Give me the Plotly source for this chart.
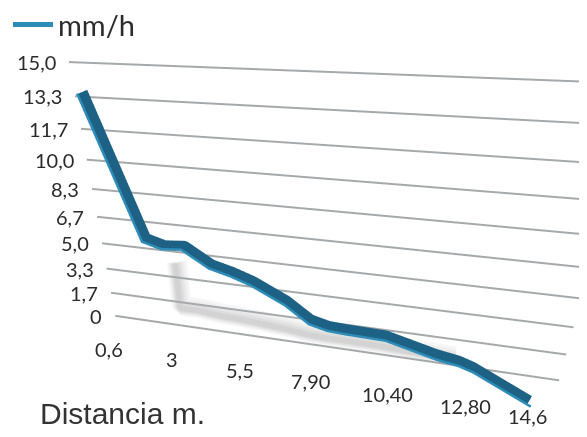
import math
import plotly.graph_objects as go

# ---- data ----
distance = [0.6, 2.0, 2.65, 3.35, 4.25, 4.95, 5.65, 6.75, 7.55, 8.15, 8.75, 10.0, 11.6, 12.3, 12.75, 14.6]
mm_h = [14.0, 6.7, 6.4, 6.5, 5.6, 5.3, 4.9, 4.0, 3.05, 2.8, 2.75, 2.7, 2.0, 1.8, 1.55, 0.0]

x_tick_vals = [0.6, 3, 5.5, 7.9, 10.4, 12.8, 14.6]
x_tick_text = ["0,6", "3", "5,5", "7,90", "10,40", "12,80", "14,6"]
z_tick_vals = [0, 5 / 3, 10 / 3, 5, 20 / 3, 25 / 3, 10, 35 / 3, 40 / 3, 15]
z_tick_text = ["0", "1,7", "3,3", "5,0", "6,7", "8,3", "10,0", "11,7", "13,3", "15,0"]

series_name = "mm/h"
x_title = "Distancia m."

# scene geometry (depth axis: 0 = front edge, 1 = back wall)
X_RANGE = [-0.55, 15.7]
Y_RANGE = [0, 1.08]
Z_RANGE = [0, 15]
WALL = 1.0
LINE_DEPTH = 0.6
LABEL_DEPTH = 0.35
SHADOW_SHIFT = -0.4
SHADOW_KNEE_RATIO = 0.65
SHADOW_RATIO = 0.18
n = len(distance)

fig = go.Figure()

# soft shadow on the wall (behind the gridlines), derived from the series
knee = 2
sx = [distance[knee] + SHADOW_SHIFT] + [d + SHADOW_SHIFT for d in distance[knee:-1]]
sz = [mm_h[knee] * SHADOW_KNEE_RATIO] + [v * SHADOW_RATIO for v in mm_h[knee:-1]]
for w, c, dy in [(40, "#f6f6f6", 0.075), (32, "#efefef", 0.062), (25, "#e6e6e6", 0.05),
                 (18, "#dddddd", 0.037), (11, "#d3d3d3", 0.025)]:
    fig.add_trace(go.Scatter3d(x=sx, y=[WALL + dy] * len(sx), z=sz, mode="lines",
                               line=dict(color=c, width=w),
                               showlegend=False, hoverinfo="skip"))

# horizontal gridlines on the back wall, one per value tick
gx, gy, gz = [], [], []
for v in z_tick_vals:
    gx += [X_RANGE[0], X_RANGE[1], None]
    gy += [WALL, WALL, None]
    gz += [v, v, None]
fig.add_trace(go.Scatter3d(x=gx, y=gy, z=gz, mode="lines",
                           line=dict(color="#a6a9ac", width=4),
                           showlegend=False, hoverinfo="skip"))

# the series ribbon (dark body + light lower edge)
fig.add_trace(go.Scatter3d(
    x=distance, y=[LINE_DEPTH] * n, z=mm_h, mode="lines",
    line=dict(color="#1d6184", width=20), showlegend=False, hoverinfo="skip",
))
fig.add_trace(go.Scatter3d(
    x=distance, y=[LINE_DEPTH - 0.09] * n, z=mm_h, mode="lines",
    line=dict(color="#2d8cb8", width=5), name=series_name, showlegend=True,
))

annotations = []
for v, t in zip(z_tick_vals, z_tick_text):
    annotations.append(dict(x=X_RANGE[0], y=WALL, z=v, text=t, showarrow=False,
                            xanchor="right", yanchor="middle", xshift=-11,
                            font=dict(size=20, family="Lato", color="#2b2b2b")))
for v, t in zip(x_tick_vals, x_tick_text):
    annotations.append(dict(x=v, y=LABEL_DEPTH, z=0, text=t, showarrow=False,
                            xanchor="center", yanchor="top", xshift=-6, yshift=16,
                            font=dict(size=20, family="Lato", color="#2b2b2b")))

# camera: pitch / yaw chosen to mimic the reference perspective
pitch, yaw, dist = math.radians(25.5), math.radians(13), 1.85
center = dict(x=-0.029, y=-0.03, z=0.082)
eye = dict(x=center["x"] + dist * math.cos(pitch) * math.sin(yaw),
           y=center["y"] - dist * math.cos(pitch) * math.cos(yaw),
           z=center["z"] + dist * math.sin(pitch))

axis_common = dict(showbackground=False, showspikes=False, zeroline=False,
                   showline=False, ticks="", title="", showgrid=False,
                   showticklabels=False)
fig.update_layout(
    width=587, height=437,
    margin=dict(l=0, r=0, t=0, b=0, autoexpand=False),
    paper_bgcolor="white",
    font=dict(family="Lato", color="#2b2b2b"),
    showlegend=True,
    legend=dict(x=0.0, y=1.02, xanchor="left", yanchor="top", itemwidth=40,
                font=dict(size=29, family="Lato", color="#2b2b2b"),
                bgcolor="rgba(0,0,0,0)"),
    scene=dict(
        domain=dict(x=[0, 1], y=[0, 1]),
        aspectmode="manual",
        aspectratio=dict(x=1.96, y=0.389, z=1.16),
        xaxis=dict(axis_common, range=X_RANGE),
        yaxis=dict(axis_common, range=Y_RANGE),
        zaxis=dict(axis_common, range=Z_RANGE),
        camera=dict(eye=eye, center=center, up=dict(x=0, y=0, z=1),
                    projection=dict(type="perspective")),
        annotations=annotations,
    ),
    annotations=[dict(text=x_title, x=30 / 587, y=0.03, xref="paper", yref="paper",
                      xanchor="left", yanchor="bottom", showarrow=False,
                      font=dict(size=30, family="Liberation Sans", color="#333333"))],
)

fig.write_html("out.html")
